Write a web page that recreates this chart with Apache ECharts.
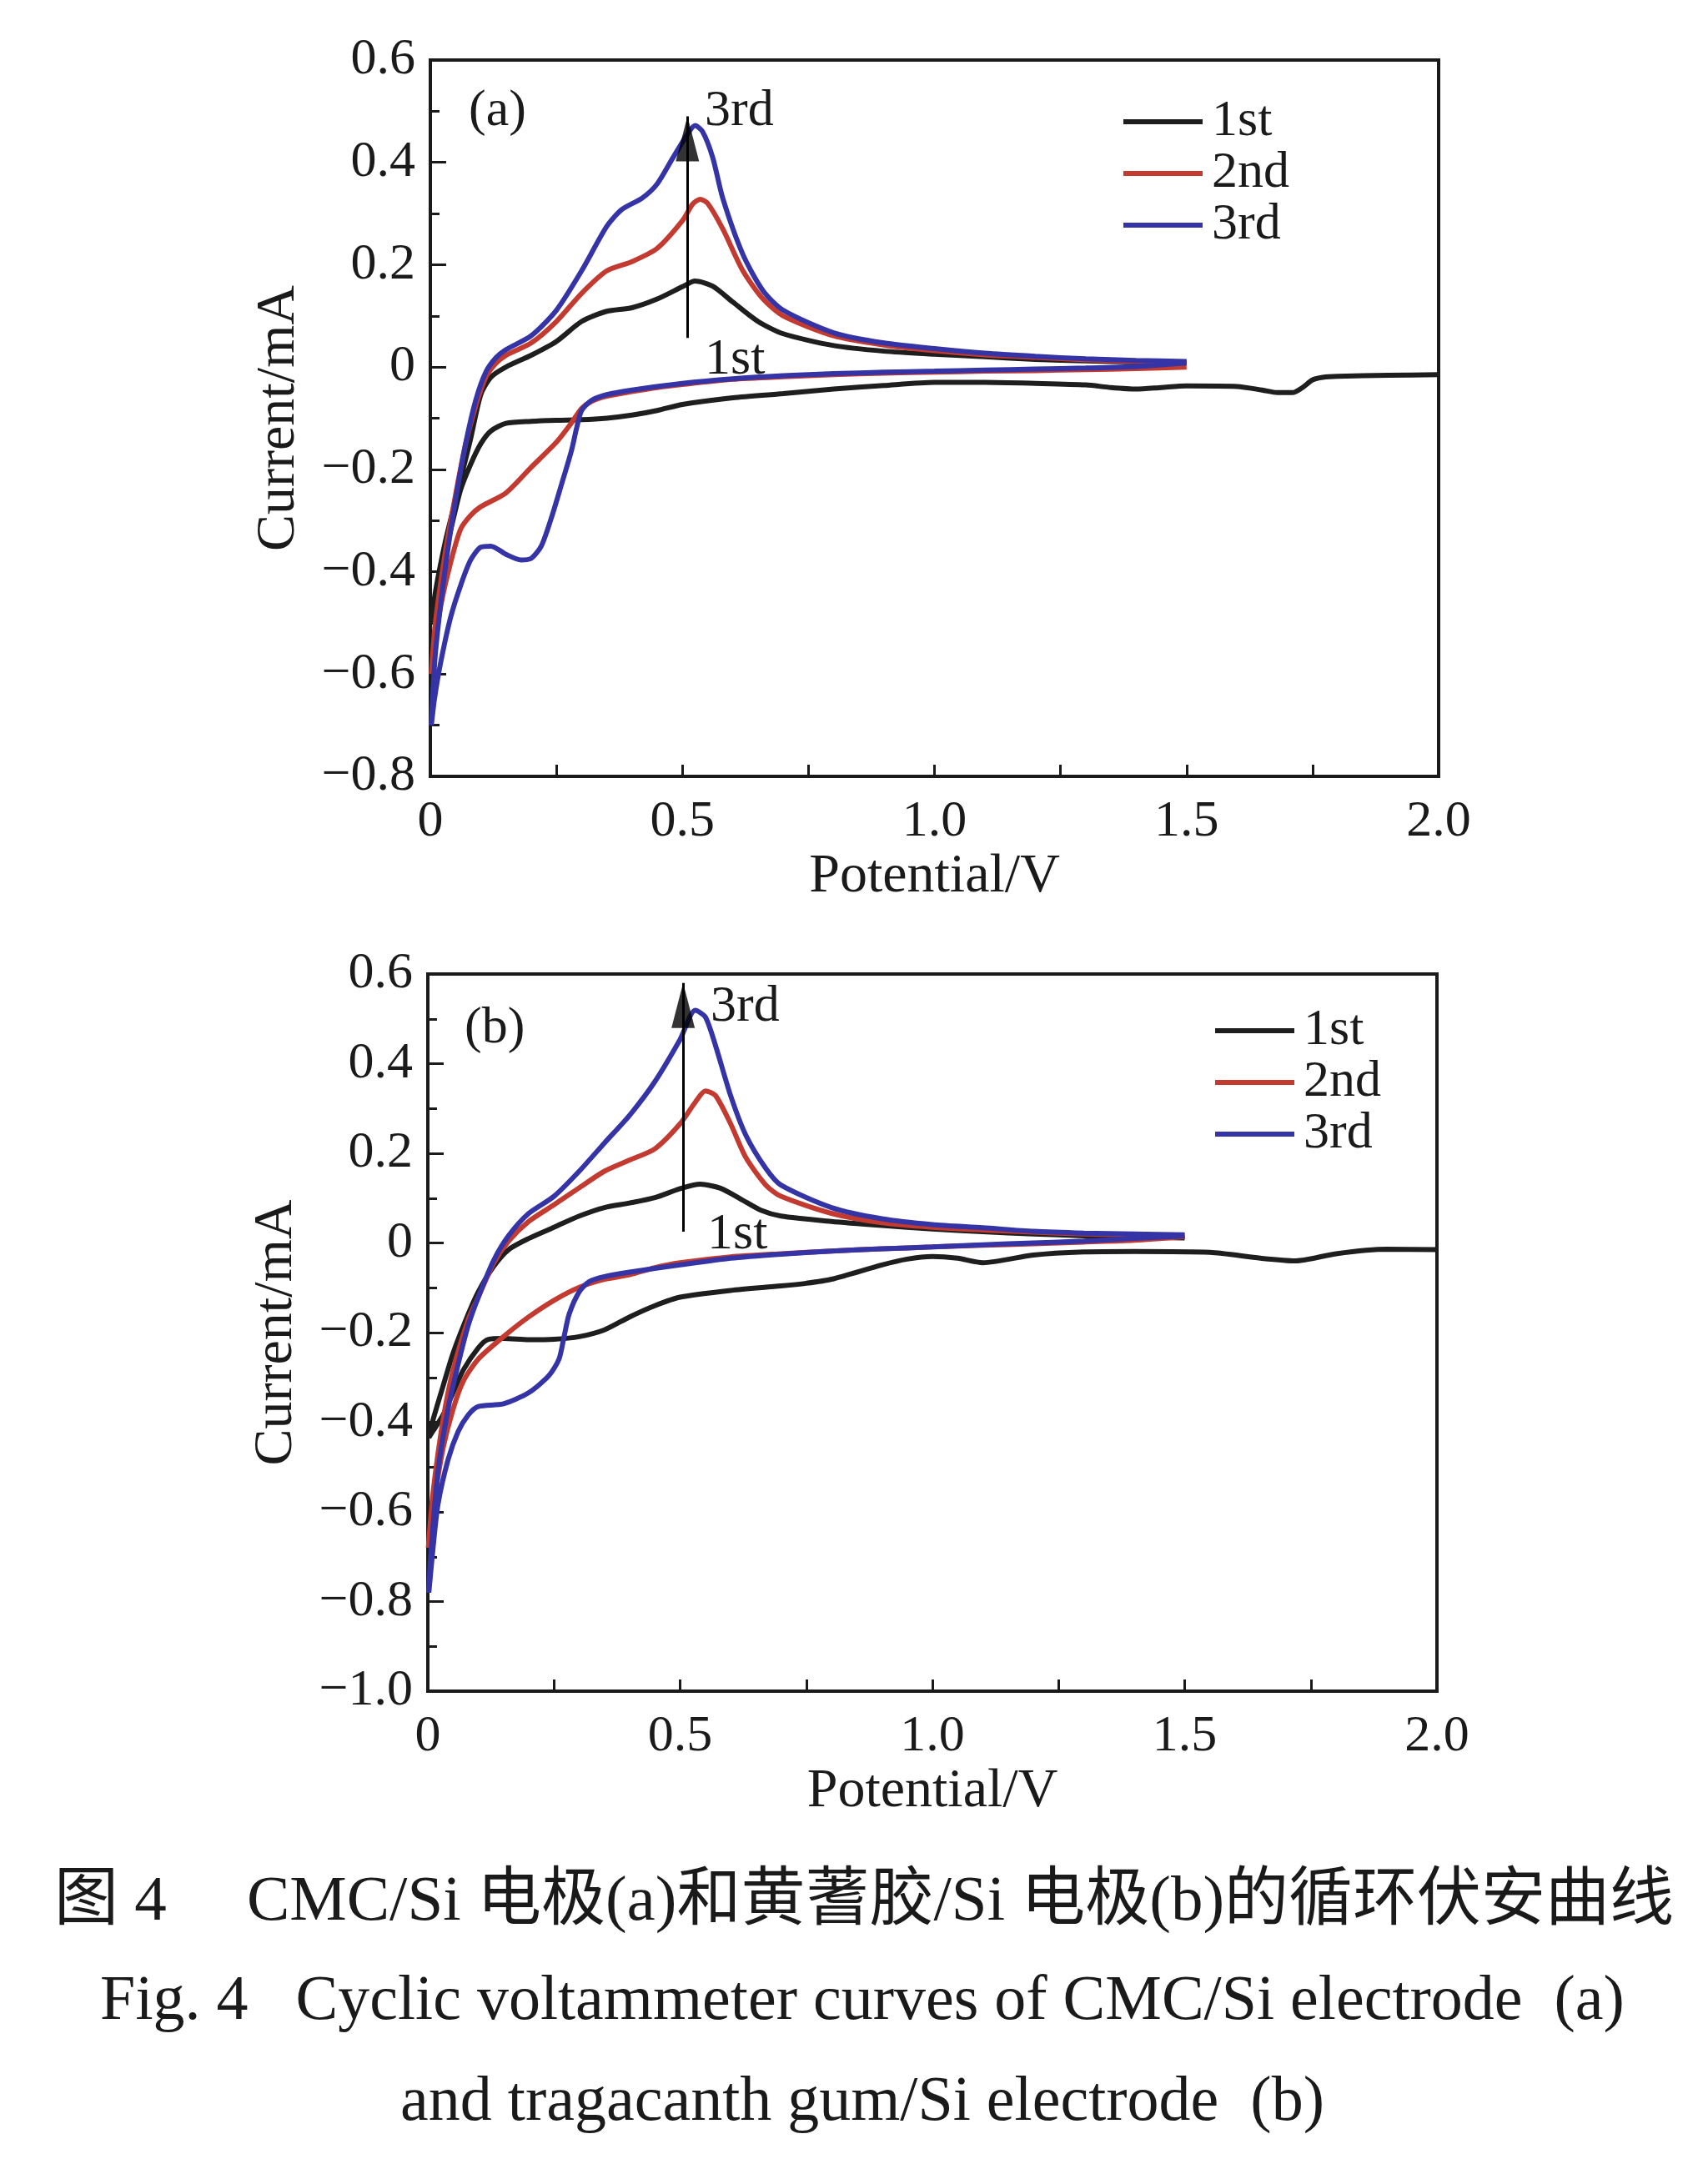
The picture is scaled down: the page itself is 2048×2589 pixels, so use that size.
<!DOCTYPE html>
<html>
<head>
<meta charset="utf-8">
<script src="https://cdn.jsdelivr.net/npm/echarts@6/dist/echarts.min.js"></script>
<style>
html,body{margin:0;padding:0;background:#fff;}
#chart{width:2048px;height:2589px;}
</style>
</head>
<body>
<div id="chart"></div>
<script>
// ---------- data (potential V, current mA) ----------
const seriesNames = ['1st', '2nd', '3rd'];
const seriesColors = ['#1e1e1e', '#c23a30', '#3434a6'];

// panel (a): CMC/Si
const a1st = [
  [2.0,-0.015],[1.9,-0.016],[1.8,-0.018],[1.77,-0.02],[1.75,-0.025],[1.73,-0.04],[1.71,-0.05],[1.68,-0.05],[1.65,-0.045],[1.6,-0.038],
  [1.5,-0.037],[1.45,-0.04],[1.4,-0.043],[1.35,-0.04],[1.3,-0.035],[1.2,-0.032],[1.1,-0.03],[1.0,-0.03],[0.9,-0.036],[0.8,-0.043],
  [0.7,-0.052],[0.6,-0.06],[0.5,-0.073],[0.45,-0.085],[0.4,-0.094],[0.35,-0.1],[0.3,-0.103],[0.25,-0.104],[0.2,-0.106],[0.15,-0.11],
  [0.12,-0.125],[0.1,-0.15],[0.08,-0.19],[0.06,-0.24],[0.04,-0.32],[0.02,-0.4],[0.008,-0.46],[0.002,-0.5],
  [0.01,-0.44],[0.03,-0.34],[0.05,-0.26],[0.07,-0.18],[0.08,-0.14],[0.1,-0.054],[0.12,-0.02],[0.15,0.0],[0.2,0.023],[0.25,0.05],
  [0.3,0.089],[0.35,0.109],[0.4,0.116],[0.45,0.133],[0.5,0.157],[0.525,0.168],[0.56,0.158],[0.6,0.127],[0.65,0.089],[0.7,0.065],
  [0.8,0.042],[0.9,0.031],[1.0,0.025],[1.1,0.02],[1.2,0.015],[1.3,0.012],[1.4,0.01],[1.5,0.008]
];
const a2nd = [
  [1.5,0.0],[1.4,-0.003],[1.3,-0.005],[1.2,-0.007],[1.1,-0.008],[1.0,-0.01],[0.9,-0.012],[0.8,-0.015],[0.7,-0.019],[0.6,-0.024],
  [0.5,-0.034],[0.45,-0.04],[0.4,-0.048],[0.35,-0.057],[0.32,-0.067],[0.3,-0.081],[0.28,-0.109],[0.25,-0.147],[0.2,-0.196],[0.15,-0.246],
  [0.1,-0.273],[0.08,-0.29],[0.06,-0.317],[0.04,-0.383],[0.02,-0.47],[0.008,-0.55],[0.002,-0.6],
  [0.01,-0.5],[0.03,-0.36],[0.05,-0.25],[0.07,-0.15],[0.09,-0.076],[0.11,-0.02],[0.13,0.007],[0.15,0.023],[0.2,0.047],[0.25,0.089],
  [0.3,0.144],[0.35,0.188],[0.4,0.206],[0.45,0.232],[0.5,0.286],[0.52,0.318],[0.535,0.328],[0.55,0.32],[0.58,0.27],[0.62,0.188],
  [0.66,0.133],[0.7,0.1],[0.8,0.061],[0.9,0.043],[1.0,0.032],[1.1,0.024],[1.2,0.019],[1.3,0.014],[1.4,0.011],[1.5,0.009]
];
const a3rd = [
  [1.5,0.008],[1.4,0.001],[1.3,-0.002],[1.2,-0.004],[1.1,-0.006],[1.0,-0.008],[0.9,-0.01],[0.8,-0.013],[0.7,-0.017],[0.6,-0.023],
  [0.5,-0.032],[0.4,-0.045],[0.35,-0.054],[0.32,-0.065],[0.3,-0.085],[0.29,-0.12],[0.28,-0.163],[0.26,-0.23],[0.24,-0.295],[0.22,-0.35],
  [0.2,-0.374],[0.18,-0.377],[0.15,-0.366],[0.12,-0.35],[0.1,-0.352],[0.08,-0.377],[0.06,-0.427],[0.04,-0.49],[0.02,-0.58],[0.008,-0.65],[0.002,-0.7],
  [0.01,-0.56],[0.03,-0.39],[0.05,-0.26],[0.07,-0.15],[0.09,-0.065],[0.11,-0.01],[0.13,0.018],[0.15,0.034],[0.2,0.061],[0.25,0.111],
  [0.3,0.188],[0.35,0.275],[0.38,0.308],[0.42,0.33],[0.45,0.358],[0.48,0.407],[0.51,0.455],[0.525,0.472],[0.54,0.46],[0.56,0.41],
  [0.58,0.33],[0.62,0.22],[0.66,0.149],[0.7,0.111],[0.8,0.067],[0.9,0.047],[1.0,0.036],[1.1,0.027],[1.2,0.021],[1.3,0.016],[1.4,0.013],[1.5,0.011]
];

// panel (b): tragacanth gum/Si
const b1st = [
  [2.0,-0.015],[1.9,-0.014],[1.8,-0.024],[1.72,-0.04],[1.65,-0.034],[1.55,-0.021],[1.4,-0.019],[1.3,-0.02],[1.2,-0.027],[1.1,-0.044],
  [1.05,-0.034],[1.0,-0.03],[0.95,-0.036],[0.9,-0.049],[0.8,-0.081],[0.75,-0.09],[0.7,-0.096],[0.6,-0.106],[0.5,-0.121],[0.45,-0.14],
  [0.4,-0.165],[0.35,-0.194],[0.3,-0.209],[0.25,-0.215],[0.2,-0.216],[0.15,-0.213],[0.12,-0.215],[0.1,-0.234],[0.07,-0.284],[0.05,-0.334],
  [0.03,-0.384],[0.01,-0.42],[0.002,-0.434],
  [0.01,-0.396],[0.03,-0.32],[0.05,-0.246],[0.08,-0.159],[0.1,-0.109],[0.13,-0.053],[0.16,-0.015],[0.2,0.01],[0.25,0.035],[0.3,0.06],
  [0.35,0.079],[0.4,0.089],[0.45,0.101],[0.5,0.121],[0.54,0.131],[0.58,0.122],[0.62,0.098],[0.66,0.073],[0.7,0.06],[0.8,0.048],
  [0.9,0.039],[1.0,0.031],[1.1,0.025],[1.2,0.02],[1.3,0.016],[1.4,0.013],[1.5,0.011]
];
const b2nd = [
  [1.5,0.014],[1.4,0.006],[1.3,0.002],[1.2,-0.002],[1.1,-0.005],[1.0,-0.009],[0.9,-0.013],[0.8,-0.018],[0.7,-0.024],[0.6,-0.031],
  [0.5,-0.044],[0.45,-0.055],[0.4,-0.071],[0.35,-0.081],[0.3,-0.099],[0.25,-0.128],[0.2,-0.165],[0.15,-0.209],[0.1,-0.259],[0.07,-0.309],
  [0.05,-0.371],[0.03,-0.459],[0.015,-0.559],[0.005,-0.646],[0.001,-0.68],
  [0.01,-0.56],[0.03,-0.396],[0.05,-0.284],[0.08,-0.171],[0.1,-0.121],[0.13,-0.046],[0.16,0.004],[0.2,0.048],[0.25,0.085],[0.3,0.123],
  [0.35,0.16],[0.4,0.185],[0.45,0.21],[0.5,0.266],[0.53,0.314],[0.55,0.339],[0.57,0.329],[0.6,0.266],[0.63,0.191],[0.67,0.129],
  [0.7,0.104],[0.8,0.066],[0.9,0.045],[1.0,0.035],[1.1,0.029],[1.2,0.024],[1.3,0.02],[1.4,0.018],[1.5,0.016]
];
const b3rd = [
  [1.5,0.016],[1.4,0.01],[1.3,0.004],[1.2,0.0],[1.1,-0.004],[1.0,-0.009],[0.9,-0.013],[0.8,-0.018],[0.7,-0.025],[0.6,-0.034],
  [0.5,-0.049],[0.4,-0.065],[0.35,-0.075],[0.32,-0.086],[0.3,-0.109],[0.28,-0.159],[0.27,-0.209],[0.26,-0.259],[0.24,-0.296],[0.2,-0.334],
  [0.15,-0.359],[0.1,-0.365],[0.08,-0.384],[0.06,-0.421],[0.04,-0.484],[0.02,-0.584],[0.01,-0.684],[0.002,-0.78],
  [0.005,-0.71],[0.02,-0.51],[0.04,-0.371],[0.06,-0.271],[0.08,-0.184],[0.1,-0.121],[0.13,-0.04],[0.16,0.016],[0.2,0.066],[0.25,0.104],
  [0.3,0.16],[0.35,0.223],[0.4,0.285],[0.45,0.36],[0.5,0.454],[0.53,0.519],[0.55,0.504],[0.57,0.441],[0.6,0.329],[0.63,0.241],
  [0.67,0.166],[0.7,0.129],[0.8,0.079],[0.9,0.054],[1.0,0.041],[1.1,0.034],[1.2,0.026],[1.3,0.022],[1.4,0.02],[1.5,0.018]
];

// arrows (from 1st to 3rd peak), data coords: [tail, tip]
const arrowA = [[0.51, 0.057], [0.51, 0.49]];
const arrowB = [[0.506, 0.025], [0.506, 0.58]];

// axis ranges / labels
const xRange = [0, 2.0, 0.5];
const yRangeA = [-0.8, 0.6, 0.2];
const yRangeB = [-1.0, 0.6, 0.2];
const xAxisTitle = 'Potential/V';
const yAxisTitle = 'Current/mA';
const captionLines = [
  '图 4　 CMC/Si 电极(a)和黄蓍胶/Si 电极(b)的循环伏安曲线',
  'Fig. 4   Cyclic voltammeter curves of CMC/Si electrode  (a)',
  'and tragacanth gum/Si electrode  (b)'
];

// ---------- chart ----------
const FONT = '"Liberation Serif", "Times New Roman", "Noto Sans CJK SC", serif';
const INK = '#1a1a1a';

function fmtY(v) {
  if (Math.abs(v) < 1e-9) return '0';
  return (v < 0 ? '\u2212' : '') + Math.abs(v).toFixed(1);
}
function fmtX(v) {
  if (Math.abs(v) < 1e-9) return '0';
  return v.toFixed(1);
}

function xAxisDef(gi) {
  return {
    type: 'value', gridIndex: gi, min: xRange[0], max: xRange[1], interval: xRange[2],
    name: xAxisTitle, nameLocation: 'middle', nameGap: 88,
    nameTextStyle: { fontFamily: FONT, fontSize: 66, color: INK },
    axisLine: { show: true, onZero: false, lineStyle: { color: INK, width: 4 } },
    axisTick: { show: true, inside: true, length: 14, lineStyle: { color: INK, width: 3 } },
    minorTick: { show: true, splitNumber: 2, length: 14, lineStyle: { color: INK, width: 3 } },
    axisLabel: { fontFamily: FONT, fontSize: 62, color: INK, margin: 24, formatter: fmtX },
    splitLine: { show: false }
  };
}
function yAxisDef(gi, r) {
  return {
    type: 'value', gridIndex: gi, min: r[0], max: r[1], interval: r[2],
    name: yAxisTitle, nameLocation: 'middle', nameGap: 148, nameRotate: 90,
    nameTextStyle: { fontFamily: FONT, fontSize: 66, color: INK },
    axisLine: { show: true, onZero: false, lineStyle: { color: INK, width: 4 } },
    axisTick: { show: true, inside: true, length: 19, lineStyle: { color: INK, width: 3 } },
    minorTick: { show: true, splitNumber: 2, length: 11, lineStyle: { color: INK, width: 3 } },
    axisLabel: { fontFamily: FONT, fontSize: 62, color: INK, margin: 18, formatter: fmtY },
    splitLine: { show: false }
  };
}

const panelData = [[a1st, a2nd, a3rd], [b1st, b2nd, b3rd]];
const arrows = [arrowA, arrowB];
const series = [];
panelData.forEach((set, gi) => {
  set.forEach((d, k) => {
    const s = {
      name: seriesNames[k], type: 'line', xAxisIndex: gi, yAxisIndex: gi,
      data: d, showSymbol: false, smooth: 0.25, animation: false,
      lineStyle: { color: seriesColors[k], width: 6 },
      itemStyle: { color: seriesColors[k] },
      z: 3 + k
    };
    if (k === 0) {
      s.markLine = {
        silent: true, animation: false, z: 10,
        symbol: ['none', 'none'],
        label: { show: false },
        lineStyle: { color: '#000', width: 3, type: 'solid' },
        data: [[{ coord: arrows[gi][0] }, { coord: arrows[gi][1] }]]
      };
    }
    series.push(s);
  });
  // arrow head: triangle whose tip sits on the arrow's end point
  series.push({
    type: 'scatter', xAxisIndex: gi, yAxisIndex: gi, silent: true, animation: false, z: 12,
    data: [arrows[gi][1]],
    symbol: 'triangle', symbolSize: [28, 54], symbolOffset: [0, '50%'],
    itemStyle: { color: '#000' }
  });
});

function legendDef(left, top) {
  return {
    left: left, top: top, orient: 'vertical', selectedMode: false,
    data: seriesNames, icon: 'rect', itemWidth: 95, itemHeight: 6, itemGap: 0,
    textStyle: { fontFamily: FONT, fontSize: 62, color: INK, lineHeight: 58, padding: [0, 0, 0, 6] }
  };
}

function txt(x, y, s, size, align) {
  return {
    type: 'text', x: x, y: y, silent: true,
    style: { text: s, fontFamily: FONT, fontSize: size, fill: INK, align: align || 'left', verticalAlign: 'middle' }
  };
}

const chart = echarts.init(document.getElementById('chart'), null, { renderer: 'canvas' });
chart.setOption({
  backgroundColor: '#ffffff',
  animation: false,
  grid: [
    { left: 516, top: 72, width: 1209, height: 859, show: true, borderColor: INK, borderWidth: 4 },
    { left: 513, top: 1168, width: 1210, height: 860, show: true, borderColor: INK, borderWidth: 4 }
  ],
  xAxis: [xAxisDef(0), xAxisDef(1)],
  yAxis: [yAxisDef(0, yRangeA), yAxisDef(1, yRangeB)],
  legend: [legendDef(1342, 110), legendDef(1452, 1200)],
  series: series,
  graphic: [
    txt(562, 134, '(a)', 62),
    txt(557, 1234, '(b)', 62),
    txt(845, 134, '3rd', 62),
    txt(845, 432, '1st', 62),
    txt(852, 1208, '3rd', 62),
    txt(848, 1481, '1st', 62),
    txt(1036, 2282, captionLines[0], 77, 'center'),
    txt(1034, 2401, captionLines[1], 76, 'center'),
    txt(1034, 2522, captionLines[2], 76, 'center')
  ]
});
</script>
</body>
</html>
